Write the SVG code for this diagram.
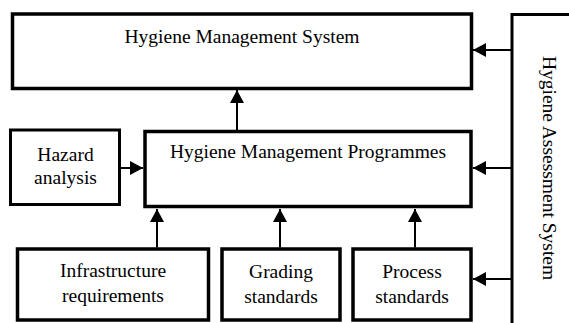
<svg xmlns="http://www.w3.org/2000/svg" width="569" height="323" viewBox="0 0 569 323">
  <style>
    .box { fill: #ffffff; stroke: #000000; stroke-width: 3.5; }
    .thin { stroke-width: 3; }
    .lbl { font-family: "Liberation Serif", "Times New Roman", serif; font-size: 19.5px; fill: #000000; text-anchor: middle; }
    .conn line { stroke: #000000; stroke-width: 2; }
  </style>
  <defs>
    <marker id="arrow" viewBox="0 0 13 14" refX="13" refY="7" markerWidth="13" markerHeight="14" markerUnits="userSpaceOnUse" orient="auto">
      <path d="M0,0 L13,7 L0,14 Z" fill="#000000"/>
    </marker>
  </defs>
  <rect x="0" y="0" width="569" height="323" fill="#ffffff"/>

  <g id="hygiene-management-system">
    <rect class="box" x="12.5" y="14" width="459" height="74.5"/>
    <text class="lbl" x="242" y="43">Hygiene Management System</text>
  </g>

  <g id="hygiene-assessment-system">
    <rect class="box thin" x="512" y="14.5" width="90" height="340"/>
    <text class="lbl" x="542.5" y="168" transform="rotate(90 542.5 168)">Hygiene Assessment System</text>
  </g>

  <g id="hazard-analysis">
    <rect class="box thin" x="10.5" y="130" width="109" height="74.5"/>
    <text class="lbl" x="65.5" y="160.5">Hazard</text>
    <text class="lbl" x="65.5" y="183.5">analysis</text>
  </g>

  <g id="hygiene-management-programmes">
    <rect class="box" x="145" y="131.5" width="326" height="75"/>
    <text class="lbl" x="308" y="158">Hygiene Management Programmes</text>
  </g>

  <g id="infrastructure-requirements">
    <rect class="box" x="17.5" y="249" width="191" height="71"/>
    <text class="lbl" x="113" y="277">Infrastructure</text>
    <text class="lbl" x="113" y="301.5">requirements</text>
  </g>

  <g id="grading-standards">
    <rect class="box" x="222" y="249" width="118" height="71"/>
    <text class="lbl" x="281" y="278">Grading</text>
    <text class="lbl" x="281" y="302.5">standards</text>
  </g>

  <g id="process-standards">
    <rect class="box" x="353" y="249" width="118" height="71"/>
    <text class="lbl" x="412" y="278">Process</text>
    <text class="lbl" x="412" y="302.5">standards</text>
  </g>

  <g id="connectors" class="conn">
    <line x1="237" y1="130" x2="237" y2="90" marker-end="url(#arrow)"/>
    <line x1="121" y1="168" x2="143" y2="168" marker-end="url(#arrow)"/>
    <line x1="157" y1="247.5" x2="157" y2="209" marker-end="url(#arrow)"/>
    <line x1="280" y1="247.5" x2="280" y2="209" marker-end="url(#arrow)"/>
    <line x1="415" y1="247.5" x2="415" y2="209" marker-end="url(#arrow)"/>
    <line x1="511" y1="50" x2="473" y2="50" marker-end="url(#arrow)"/>
    <line x1="511" y1="168" x2="473" y2="168" marker-end="url(#arrow)"/>
    <line x1="511" y1="279" x2="473" y2="279" marker-end="url(#arrow)"/>
  </g>
</svg>
